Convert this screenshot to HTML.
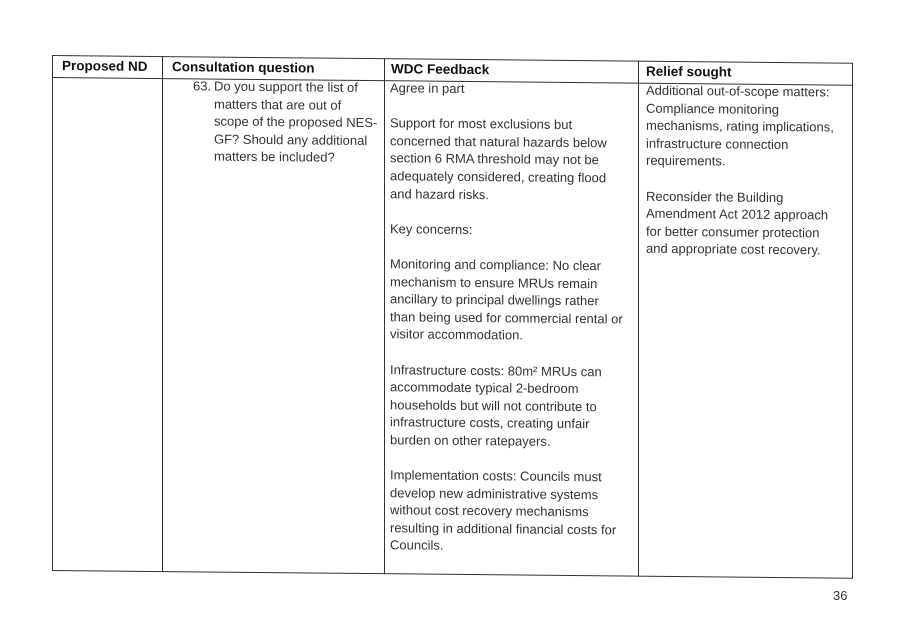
<!DOCTYPE html>
<html><head><meta charset="utf-8"><style>
body{margin:0;background:#fff;width:907px;height:626px;overflow:hidden;position:relative;font-family:"Liberation Sans",sans-serif;color:#222;}
#t{position:absolute;left:52px;top:55px;width:801px;height:516px;transform:skewY(0.55deg);transform-origin:0 0;}
.l{position:absolute;background:#333;}
.h{position:absolute;top:1px;font-weight:bold;font-size:13.5px;line-height:20px;white-space:nowrap;color:#111;}
.c{position:absolute;top:21px;font-size:13px;line-height:17.6px;white-space:nowrap;color:#333;}
</style></head><body>
<div id="t">
<div class="l" style="left:0;top:0;width:801px;height:1px"></div>
<div class="l" style="left:0;top:22px;width:801px;height:1px"></div>
<div class="l" style="left:0;top:515px;width:801px;height:1px"></div>
<div class="l" style="left:0;top:0;width:1px;height:516px"></div>
<div class="l" style="left:110px;top:0;width:1px;height:516px"></div>
<div class="l" style="left:332px;top:0;width:1px;height:516px"></div>
<div class="l" style="left:586px;top:0;width:1px;height:516px"></div>
<div class="l" style="left:800px;top:0;width:1px;height:516px"></div>
<div class="h" style="left:10px">Proposed ND</div>
<div class="h" style="left:120px">Consultation question</div>
<div class="h" style="left:339px">WDC Feedback</div>
<div class="h" style="left:594px">Relief sought</div>
<div class="c" style="left:141px">63.</div>
<div class="c" style="left:162px">Do you support the list of<br>matters that are out of<br>scope of the proposed NES-<br>GF? Should any additional<br>matters be included?</div>
<div class="c" style="left:338px">Agree in part<br><br>Support for most exclusions but<br>concerned that natural hazards below<br>section 6 RMA threshold may not be<br>adequately considered, creating flood<br>and hazard risks.<br><br>Key concerns:<br><br>Monitoring and compliance: No clear<br>mechanism to ensure MRUs remain<br>ancillary to principal dwellings rather<br>than being used for commercial rental or<br>visitor accommodation.<br><br>Infrastructure costs: 80m² MRUs can<br>accommodate typical 2-bedroom<br>households but will not contribute to<br>infrastructure costs, creating unfair<br>burden on other ratepayers.<br><br>Implementation costs: Councils must<br>develop new administrative systems<br>without cost recovery mechanisms<br>resulting in additional financial costs for<br>Councils.</div>
<div class="c" style="left:594px">Additional out-of-scope matters:<br>Compliance monitoring<br>mechanisms, rating implications,<br>infrastructure connection<br>requirements.<br><br>Reconsider the Building<br>Amendment Act 2012 approach<br>for better consumer protection<br>and appropriate cost recovery.</div>
</div>
<div style="position:absolute;left:833px;top:588px;font-size:13px;color:#333">36</div>
</body></html>
